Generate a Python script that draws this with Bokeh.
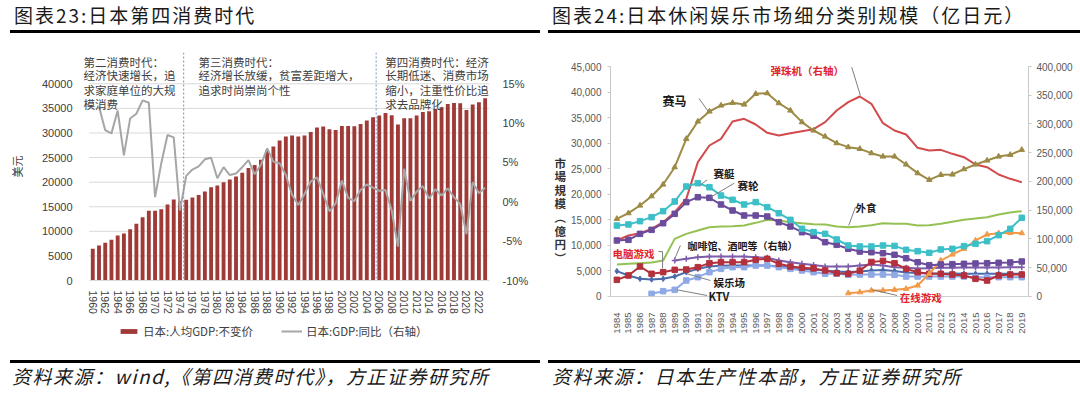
import math
from bokeh.plotting import figure
from bokeh.models import (Range1d, LinearAxis, FixedTicker, Span, Label, Legend,
                          LegendItem, Div, NumeralTickFormatter, ColumnDataSource)
from bokeh.layouts import row, column
from bokeh.embed import file_html
from bokeh.resources import INLINE

# ------------------------------------------------------------------ data: chart 23
gdp_years = list(range(1960, 2024))
gdp_per_capita = [6440, 7110, 7660, 8270, 9150, 9550, 10430, 11520, 12870, 14160,
                  14160, 14500, 15450, 16460, 16120, 16400, 16870, 17410, 18090, 18970,
                  19310, 19990, 20530, 21140, 21890, 22900, 23510, 24530, 26420, 27240,
                  28460, 29270, 29470, 29270, 29470, 30220, 31100, 31300, 30760, 30620,
                  31440, 31440, 31370, 31840, 32520, 33200, 33540, 34080, 33600, 31710,
                  32990, 32990, 33540, 34280, 34420, 34890, 35230, 35910, 36110, 36040,
                  34690, 35770, 36250, 37060]
yoy_years = list(range(1961, 2024))
gdp_yoy = [12.1, 9.1, 8.7, 11.6, 5.9, 10.6, 11.2, 12.9, 12.6, 0.6,
           4.9, 8.5, 8.2, -1.1, 3.3, 4.1, 4.5, 5.4, 5.6, 3.0,
           4.4, 3.4, 3.6, 4.4, 5.3, 3.5, 4.7, 6.8, 5.1, 4.9,
           3.4, 0.9, -0.4, 1.0, 2.6, 3.1, 1.0, -1.2, -0.2, 2.7,
           0.5, 0.1, 1.5, 2.2, 1.8, 1.4, 1.5, -1.1, -5.7, 4.2,
           0.1, 1.3, 2.0, 0.4, 1.6, 0.8, 1.7, 0.6, -0.3, -4.1,
           2.5, 1.1, 1.8]
x_ticks_23 = list(range(1960, 2024, 2))
left_ticks_23 = list(range(0, 40001, 5000))
right_ticks_23 = [-10, -5, 0, 5, 10, 15]
era_lines = [1974.6, 2005.5]
era_texts = [["第二消费时代：", "经济快速增长，追", "求家庭单位的大规", "模消费"],
             ["第三消费时代：", "经济增长放缓，贫富差距增大，", "追求时尚崇尚个性"],
             ["第四消费时代：经济", "长期低迷、消费市场", "缩小，注重性价比追", "求去品牌化"]]
legend_labels_23 = ["日本:人均GDP:不变价", "日本:GDP:同比（右轴）"]

# ------------------------------------------------------------------ data: chart 24
ly = list(range(1984, 2020))
horse = [15200, 16300, 17800, 19620, 21910, 25300, 30850, 34240, 36200, 37370,
         37890, 37560, 39650, 39780, 37830, 36390, 34110, 32480, 31300, 30000,
         29220, 28890, 28040, 27390, 27390, 25830, 24130, 22830, 23800, 23870,
         24910, 25830, 26610, 27390, 27720, 28700]
pachinko = [97390, 106090, 110150, 117680, 129280, 146670, 169860, 233620, 262610, 274200,
            304350, 308990, 299130, 284640, 280000, 284060, 287540, 291000, 303190, 323480,
            337970, 347830, 335130, 301450, 288700, 281740, 258550, 253910, 255070, 248120,
            242320, 229570, 224930, 212170, 204650, 198840]
boat = [13890, 14090, 14740, 15520, 16700, 18590, 21520, 22170, 21390, 19760,
        18920, 18000, 18460, 17480, 16300, 15000, 13240, 12600, 12260, 11150,
        9980, 9780, 9780, 9980, 9900, 9130, 8870, 8550, 9200, 9330,
        9850, 10300, 10830, 12000, 13240, 15400]
bicycle = [10960, 11090, 12260, 13040, 14340, 16170, 18460, 19430, 19300, 18000,
           16830, 15850, 15850, 15650, 14540, 13700, 12580, 11900, 10630, 10110,
           9330, 8800, 8670, 8470, 8160, 7490, 6710, 6130, 6260, 6330,
           6390, 6460, 6520, 6590, 6650, 6850]
dining = [6260, 6390, 6520, 6650, 7040, 11280, 12260, 12910, 13560, 13700,
          13760, 13890, 14410, 15000, 14870, 14540, 14340, 14150, 14090, 13700,
          13560, 13700, 13960, 14340, 14220, 14220, 13890, 13960, 14220, 14610,
          15000, 15260, 15520, 16040, 16430, 16700]
pc_games = [3260, 4110, 5870, 4440, 4760, 5220, 5280, 5740, 6520, 6720,
            6720, 6720, 7170, 7370, 6390, 5870, 5610, 5500, 5090, 4570,
            4440, 5060, 6750, 6970, 6520, 5400, 4760, 4440, 4440, 4300,
            4110, 3460, 3130, 4110, 4300, 4300]
arcade = [4960, 4110, 3460, 3330, 3460, 3910, 4760, 5410, 5870, 6000,
          6070, 6070, 6070, 6070, 5870, 5610, 5410, 5220, 5100, 4900,
          4800, 4900, 5100, 5200, 5000, 4700, 4600, 4500, 4500, 4500,
          4450, 4450, 4450, 4450, 4450, 4450]
cafe_years = list(range(1989, 2020))
cafe = [62610, 65510, 68410, 69570, 69570, 69570, 69570, 68410, 67250, 62610,
        59710, 56810, 54800, 52170, 52170, 52170, 53910, 55650, 53910, 51010,
        49850, 48700, 49300, 49850, 49850, 50400, 50400, 50400, 50400, 50900, 50900]
ktv_years = list(range(1987, 2020))
ktv = [520, 1040, 1300, 3130, 3780, 4760, 5410, 5740, 5740, 6070,
       6070, 5740, 5410, 5090, 4760, 4440, 4440, 4240, 4300, 4300,
       4300, 4240, 3910, 3910, 3910, 3910, 3910, 3910, 3780, 3780,
       3780, 3780, 3780]
online_years = list(range(2004, 2020))
online = [650, 850, 1170, 1170, 1300, 1500, 2150, 4440, 7040, 8220,
          9330, 10960, 12130, 12390, 12460, 12390]
left_ticks_24 = list(range(0, 45001, 5000))
right_ticks_24 = list(range(0, 400001, 50000))

CJK = "Noto Sans CJK SC"
NUM = "Liberation Sans"
C_BAR, C_YOY = "#A03A37", "#A6A6A6"

src_gdp = ColumnDataSource(data=dict(x=gdp_years, top=gdp_per_capita))
src_yoy = ColumnDataSource(data=dict(x=yoy_years, y=gdp_yoy))

# ================================================================== chart 23
XL0, XL1 = 1958.19, 2023.7          # frame extent (a little room left for the text)
pL = figure(width=540, height=285, x_range=Range1d(XL0, XL1),
            y_range=Range1d(0, 46365), output_backend="svg", toolbar_location=None,
            min_border_left=81, min_border_right=51, min_border_top=19,
            min_border_bottom=38)
pL.extra_y_ranges = {"right": Range1d(-10, 18.98)}
pL.outline_line_color = None
pL.xgrid.grid_line_color = None
pL.ygrid.grid_line_color = None

grid_vals = left_ticks_23[1:]
pL.segment(x0=[1959.4] * len(grid_vals), x1=[XL1] * len(grid_vals),
           y0=grid_vals, y1=grid_vals, line_color="#D9D9D9", line_width=1)

pL.vbar(x="x", top="top", source=src_gdp, width=0.62, fill_color=C_BAR, line_color=None)
pL.line(x="x", y="y", source=src_yoy, y_range_name="right", line_color=C_YOY, line_width=2)

ax = pL.xaxis[0]
ax.ticker = FixedTicker(ticks=x_ticks_23)
ax.bounds = (1959.4, XL1)
ax.major_label_orientation = -math.pi / 2
ax.axis_line_color = "#D9D9D9"
ax.major_tick_line_color = None
ax.minor_tick_line_color = None
ax.major_label_standoff = 4
ax.major_label_text_font = NUM
ax.major_label_text_font_size = "10.5px"
ax.major_label_text_color = "#404040"

ayl = pL.yaxis[0]
ayl.ticker = FixedTicker(ticks=left_ticks_23)
ayl.formatter = NumeralTickFormatter(format="0")
ayl.axis_line_color = None
ayl.major_tick_line_color = None
ayl.minor_tick_line_color = None
ayl.major_label_standoff = 3
ayl.major_label_text_font = NUM
ayl.major_label_text_font_size = "11px"
ayl.major_label_text_color = "#404040"
ayl.axis_label = "美元"
ayl.axis_label_text_font = CJK
ayl.axis_label_text_font_style = "normal"
ayl.axis_label_text_font_size = "11px"
ayl.axis_label_text_color = "#404040"
ayl.axis_label_standoff = 14

ayr = LinearAxis(y_range_name="right", ticker=FixedTicker(ticks=right_ticks_23),
                 major_label_overrides={t: f"{t}%" for t in right_ticks_23})
ayr.axis_line_color = None
ayr.major_tick_line_color = None
ayr.minor_tick_line_color = None
ayr.major_label_standoff = 7
ayr.major_label_text_font = NUM
ayr.major_label_text_font_size = "11px"
ayr.major_label_text_color = "#404040"
pL.add_layout(ayr, "right")

for xl in era_lines:
    pL.add_layout(Span(location=xl, dimension="height", line_color="#6A93D4",
                       line_dash="2 2", line_width=1))

era_x = [1958.51, 1976.96, 2006.96]
line_y = [44393, 41688, 38780, 35933]
for bx, lines in zip(era_x, era_texts):
    for ly_i, txt in zip(line_y, lines):
        pL.add_layout(Label(x=bx, y=ly_i, text=txt, text_font=CJK,
                            text_font_size="11.5px", text_color="#404040",
                            text_baseline="middle", text_align="left"))

# legend strip for chart 23: same series, kept below the strip's view, so only the legend shows
pLeg = figure(width=540, height=40, x_range=Range1d(1959, 2024), y_range=Range1d(50000, 60000),
              output_backend="svg", toolbar_location=None, x_axis_location=None,
              y_axis_location=None, min_border_left=81, min_border_right=51,
              min_border_top=0, min_border_bottom=0)
pLeg.outline_line_color = None
pLeg.grid.grid_line_color = None
leg_bar = pLeg.vbar(x="x", top="top", source=src_gdp, width=0.62,
                    fill_color=C_BAR, line_color=None)
leg_line = pLeg.line(x="x", y="y", source=src_yoy, line_color=C_YOY, line_width=2)
leg = Legend(items=[LegendItem(label=legend_labels_23[0], renderers=[leg_bar]),
                    LegendItem(label=legend_labels_23[1], renderers=[leg_line])],
             location=(37, 19), orientation="horizontal",
             label_text_font=CJK, label_text_font_size="11.5px", label_text_color="#404040",
             glyph_width=21, glyph_height=6, label_height=6, label_standoff=4,
             spacing=28, padding=0, margin=0, border_line_color=None,
             background_fill_alpha=0)
pLeg.add_layout(leg)

# ================================================================== chart 24
pR = figure(width=540, height=325, x_range=Range1d(1983.45, 2019.58),
            y_range=Range1d(-1761, 46174), output_backend="svg", toolbar_location=None,
            min_border_left=70, min_border_right=52, min_border_top=27,
            min_border_bottom=53)
pR.extra_y_ranges = {"right": Range1d(-15653, 410435)}
pR.outline_line_color = None
pR.xgrid.grid_line_color = None
pR.ygrid.grid_line_color = None
pR.add_layout(Span(location=0, dimension="width", line_color="#D0D0D0", line_width=1))

C_HORSE, C_PACH, C_BOAT, C_BIKE = "#9C8A45", "#D24A4C", "#3DBFC7", "#6B4C9C"
C_DINE, C_PC, C_CAFE, C_ARC, C_KTV, C_ON = ("#95C052", "#B3303C", "#7E5DAA",
                                            "#4C6BAA", "#8FA9E6", "#F29A48")

pR.line(ly, dining, line_color=C_DINE, line_width=2)
pR.line(ly, pachinko, y_range_name="right", line_color=C_PACH, line_width=2)
pR.line(cafe_years, cafe, y_range_name="right", line_color=C_CAFE, line_width=2)
pR.scatter(cafe_years, cafe, y_range_name="right", marker="cross", size=6,
           line_color=C_CAFE, line_width=1.5)
for xs, ys, col, mk in [(ly, arcade, C_ARC, "diamond"),
                        (ktv_years, ktv, C_KTV, "square"),
                        (ly, pc_games, C_PC, "square"),
                        (online_years, online, C_ON, "triangle"),
                        (ly, bicycle, C_BIKE, "square"),
                        (ly, boat, C_BOAT, "square"),
                        (ly, horse, C_HORSE, "triangle")]:
    pR.line(xs, ys, line_color=col, line_width=2)
    pR.scatter(xs, ys, marker=mk, size=5.5, fill_color=col, line_color=col)

bx = pR.xaxis[0]
bx.ticker = FixedTicker(ticks=ly)
bx.major_label_orientation = math.pi / 2
bx.axis_line_color = None
bx.major_tick_line_color = None
bx.minor_tick_line_color = None
bx.major_label_standoff = 1
bx.major_label_text_font = NUM
bx.major_label_text_font_size = "9.5px"
bx.major_label_text_color = "#595959"

byl = pR.yaxis[0]
byl.ticker = FixedTicker(ticks=left_ticks_24)
byl.bounds = (0, 45000)
byl.formatter = NumeralTickFormatter(format="0,0")
byl.axis_line_color = "#C8C8C8"
byl.major_tick_line_color = "#C8C8C8"
byl.major_tick_out = 3
byl.major_tick_in = 0
byl.minor_tick_line_color = None
byl.major_label_standoff = 6
byl.major_label_text_font = NUM
byl.major_label_text_font_size = "10px"
byl.major_label_text_color = "#595959"
byl.axis_label = " \n \n \n \n市\n場\n規\n模\n︵\n億\n円\n︶"
byl.axis_label_orientation = "horizontal"
byl.axis_label_text_font = CJK
byl.axis_label_text_font_style = "bold"
byl.axis_label_text_font_size = "11.5px"
byl.axis_label_text_line_height = 0.85
byl.axis_label_text_color = "#333333"
byl.axis_label_standoff = 2

byr = LinearAxis(y_range_name="right", ticker=FixedTicker(ticks=right_ticks_24),
                 formatter=NumeralTickFormatter(format="0,0"), bounds=(0, 400000))
byr.axis_line_color = "#C8C8C8"
byr.major_tick_line_color = "#C8C8C8"
byr.major_tick_out = 3
byr.major_tick_in = 0
byr.minor_tick_line_color = None
byr.major_label_standoff = 5
byr.major_label_text_font = NUM
byr.major_label_text_font_size = "10px"
byr.major_label_text_color = "#595959"
pR.add_layout(byr, "right")

# leader lines of the annotations
leader_xs = [[2004.3, 2005.05], [1991.1, 1991.9], [1991.8, 1991.17], [1994.15, 1992.1],
             [2004.62, 2004.04], [1987.6, 1987.95, 1987.95], [1989.49, 1988.97],
             [1992.09, 1990.08], [1991.8, 1989.2], [2008.23, 2006.07]]
leader_ys = [[44870, 39326], [38740, 36196], [22830, 21720], [22170, 19430],
             [17474, 13891], [8800, 8800, 5500], [9978, 7180],
             [3130, 4440], [196, 1311], [196, 1311]]
pR.multi_line(leader_xs, leader_ys, line_color="#7F7F7F", line_width=1)

ann = [("弹珠机（右轴）", 1997.28, 44217, "#E0262B", "bold", "10.5px"),
       ("赛马", 1987.94, 38348, "#1a1a1a", "bold", "12px"),
       ("赛艇", 1992.35, 24065, "#1a1a1a", "bold", "10.5px"),
       ("赛轮", 1994.43, 21717, "#1a1a1a", "bold", "10.5px"),
       ("外食", 2004.62, 17413, "#1a1a1a", "bold", "10.5px"),
       ("电脑游戏", 1983.62, 8413, "#E0262B", "bold", "10.5px"),
       ("咖啡馆、酒吧等（右轴）", 1990.10, 9978, "#1a1a1a", "bold", "10px"),
       ("娱乐场", 1992.35, 2739, "#1a1a1a", "bold", "10.5px"),
       ("KTV", 1991.92, 0, "#1a1a1a", "bold", "11px"),
       ("在线游戏", 2008.46, -196, "#E0262B", "bold", "10.5px")]
for txt, x, y, col, fs, size in ann:
    pR.add_layout(Label(x=x, y=y, text=txt, text_font=CJK, text_font_size=size,
                        text_font_style=fs, text_color=col,
                        text_baseline="middle", text_align="left"))


# ================================================================== page parts
def title_div(text, pad, rule_left):
    html = (f'<div style="width:540px;height:33px;overflow:hidden;">'
            f'<div style="height:30px;line-height:30px;padding-left:{pad}px;'
            f'font-family:\'{CJK}\';font-size:19px;letter-spacing:2px;color:#1a1a1a;'
            f'white-space:nowrap;">{text}</div>'
            f'<div style="margin-left:{rule_left}px;width:{540 - rule_left}px;height:3px;'
            f'background:#000;"></div></div>')
    return Div(text=html, width=540, height=33, margin=(0, 0, 0, 0))


def foot_div(text, pad, rule_left):
    html = (f'<div style="width:540px;height:35px;overflow:hidden;">'
            f'<div style="height:2px;"></div>'
            f'<div style="margin-left:{rule_left}px;width:{540 - rule_left}px;height:3px;'
            f'background:#000;"></div>'
            f'<div style="height:30px;line-height:26px;padding-left:{pad}px;'
            f'font-family:\'{CJK}\';font-size:19px;font-style:italic;letter-spacing:1.5px;'
            f'color:#1a1a1a;white-space:nowrap;">{text}</div></div>')
    return Div(text=html, width=540, height=35, margin=(0, 0, 0, 0))


for f in (pL, pLeg, pR):
    f.margin = (0, 0, 0, 0)
colL = column(title_div("图表23:日本第四消费时代", 14, 10), pL, pLeg,
              foot_div("资料来源：wind,《第四消费时代》，方正证券研究所", 12, 10),
              spacing=0)
colR = column(title_div("图表24:日本休闲娱乐市场细分类别规模（亿日元）", 12, 8), pR,
              foot_div("资料来源：日本生产性本部，方正证券研究所", 12, 8),
              spacing=0)
page = row(colL, colR, spacing=0)

open("out.html", "w").write(file_html(page, INLINE))
